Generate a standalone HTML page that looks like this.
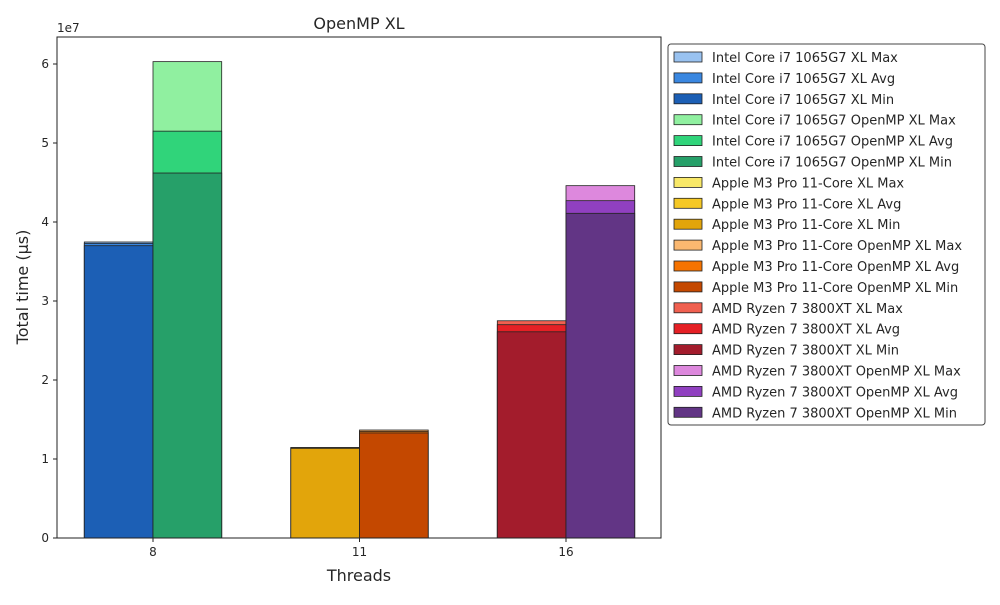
<!DOCTYPE html>
<html><head><meta charset="utf-8"><style>
body{margin:0;background:#fff;font-family:"Liberation Sans","DejaVu Sans",sans-serif}
svg text{font-family:"DejaVu Sans","Liberation Sans",sans-serif;fill:#262626}
</style></head><body>
<svg id="c" width="1000" height="600"></svg>
<script>
const categories=["8","11","16"];
const seriesNames=["Intel Core i7 1065G7 XL","Intel Core i7 1065G7 OpenMP XL","Apple M3 Pro 11-Core XL","Apple M3 Pro 11-Core OpenMP XL","AMD Ryzen 7 3800XT XL","AMD Ryzen 7 3800XT OpenMP XL"];
const maxVals=[3.747e7,6.03e7,1.146e7,1.367e7,2.75e7,4.46e7];
const avgVals=[3.73e7,5.15e7,1.14e7,1.35e7,2.70e7,4.27e7];
const minVals=[3.70e7,4.62e7,1.135e7,1.33e7,2.61e7,4.11e7];
const seriesCat=[0,0,1,1,2,2];
const yTicks=[0,1,2,3,4,5,6];
const colors=[["#99c2f0","#3a87e0","#1c5fb5"],["#90f0a0","#30d47a","#26a069"],["#f8e868","#f5c825","#e2a50b"],["#fbb870","#f57300","#c44800"],["#f06050","#e52025","#a31c2c"],["#dd88dd","#9040c0","#623585"]];
const svg=document.getElementById('c');const NS="http://www.w3.org/2000/svg";
function el(t,a,p){const e=document.createElementNS(NS,t);for(const k in a)e.setAttribute(k,a[k]);(p||svg).appendChild(e);return e;}
const L=57,R=661,T=37,B=538;
const y=v=>B-v/1e7*79;
const x=i=>153+i*206.5;
const bw=68.7;
seriesNames.forEach((n,s)=>{
 const c=seriesCat[s];const left=x(c)+(s%2===0?-bw:0);
 [[maxVals,0,"max"],[avgVals,1,"avg"],[minVals,2,"min"]].forEach(([arr,k,lab])=>{
  const r=el('rect',{x:left,y:y(arr[s]),width:bw,height:B-y(arr[s]),fill:colors[s][k],stroke:"#222","stroke-width":0.8});
  
  
 });
});
el('rect',{x:L,y:T,width:R-L,height:B-T,fill:"none",stroke:"#222","stroke-width":1,});
yTicks.forEach(t=>{const yy=y(t*1e7);el('line',{x1:L-4,x2:L,y1:yy,y2:yy,stroke:"#222"});
 const tx=el('text',{x:L-8,y:yy+4,"text-anchor":"end","font-size":12});tx.textContent=t;
 });
categories.forEach((c,i)=>{const xx=x(i);el('line',{x1:xx,x2:xx,y1:B,y2:B+4,stroke:"#222"});
 const tx=el('text',{x:xx,y:B+18,"text-anchor":"middle","font-size":12});tx.textContent=c;
 });
let t=el('text',{x:57,y:32,"font-size":12,});t.textContent="1e7";
t=el('text',{x:359,y:29,"text-anchor":"middle","font-size":16,});t.textContent="OpenMP XL";
t=el('text',{x:359,y:581,"text-anchor":"middle","font-size":16,});t.textContent="Threads";
t=el('text',{x:0,y:0,"text-anchor":"middle","font-size":16,transform:"translate(28,287) rotate(-90)",});t.textContent="Total time (µs)";
el('rect',{x:668,y:44,width:317,height:381,rx:3,fill:"#fff",stroke:"#444",});
let row=0;
seriesNames.forEach((n,s)=>{["Max","Avg","Min"].forEach((lab,k)=>{
 const yy=57+row*20.9;
 const r=el('rect',{x:674,y:yy-5,width:28,height:10,fill:colors[s][k],stroke:"#222","stroke-width":0.8});
 
 const tx=el('text',{x:712,y:yy+5,"font-size":13,"textLength":null});tx.removeAttribute('textLength');tx.textContent=n+" "+lab;
 
 row++;});});
</script></body></html>
